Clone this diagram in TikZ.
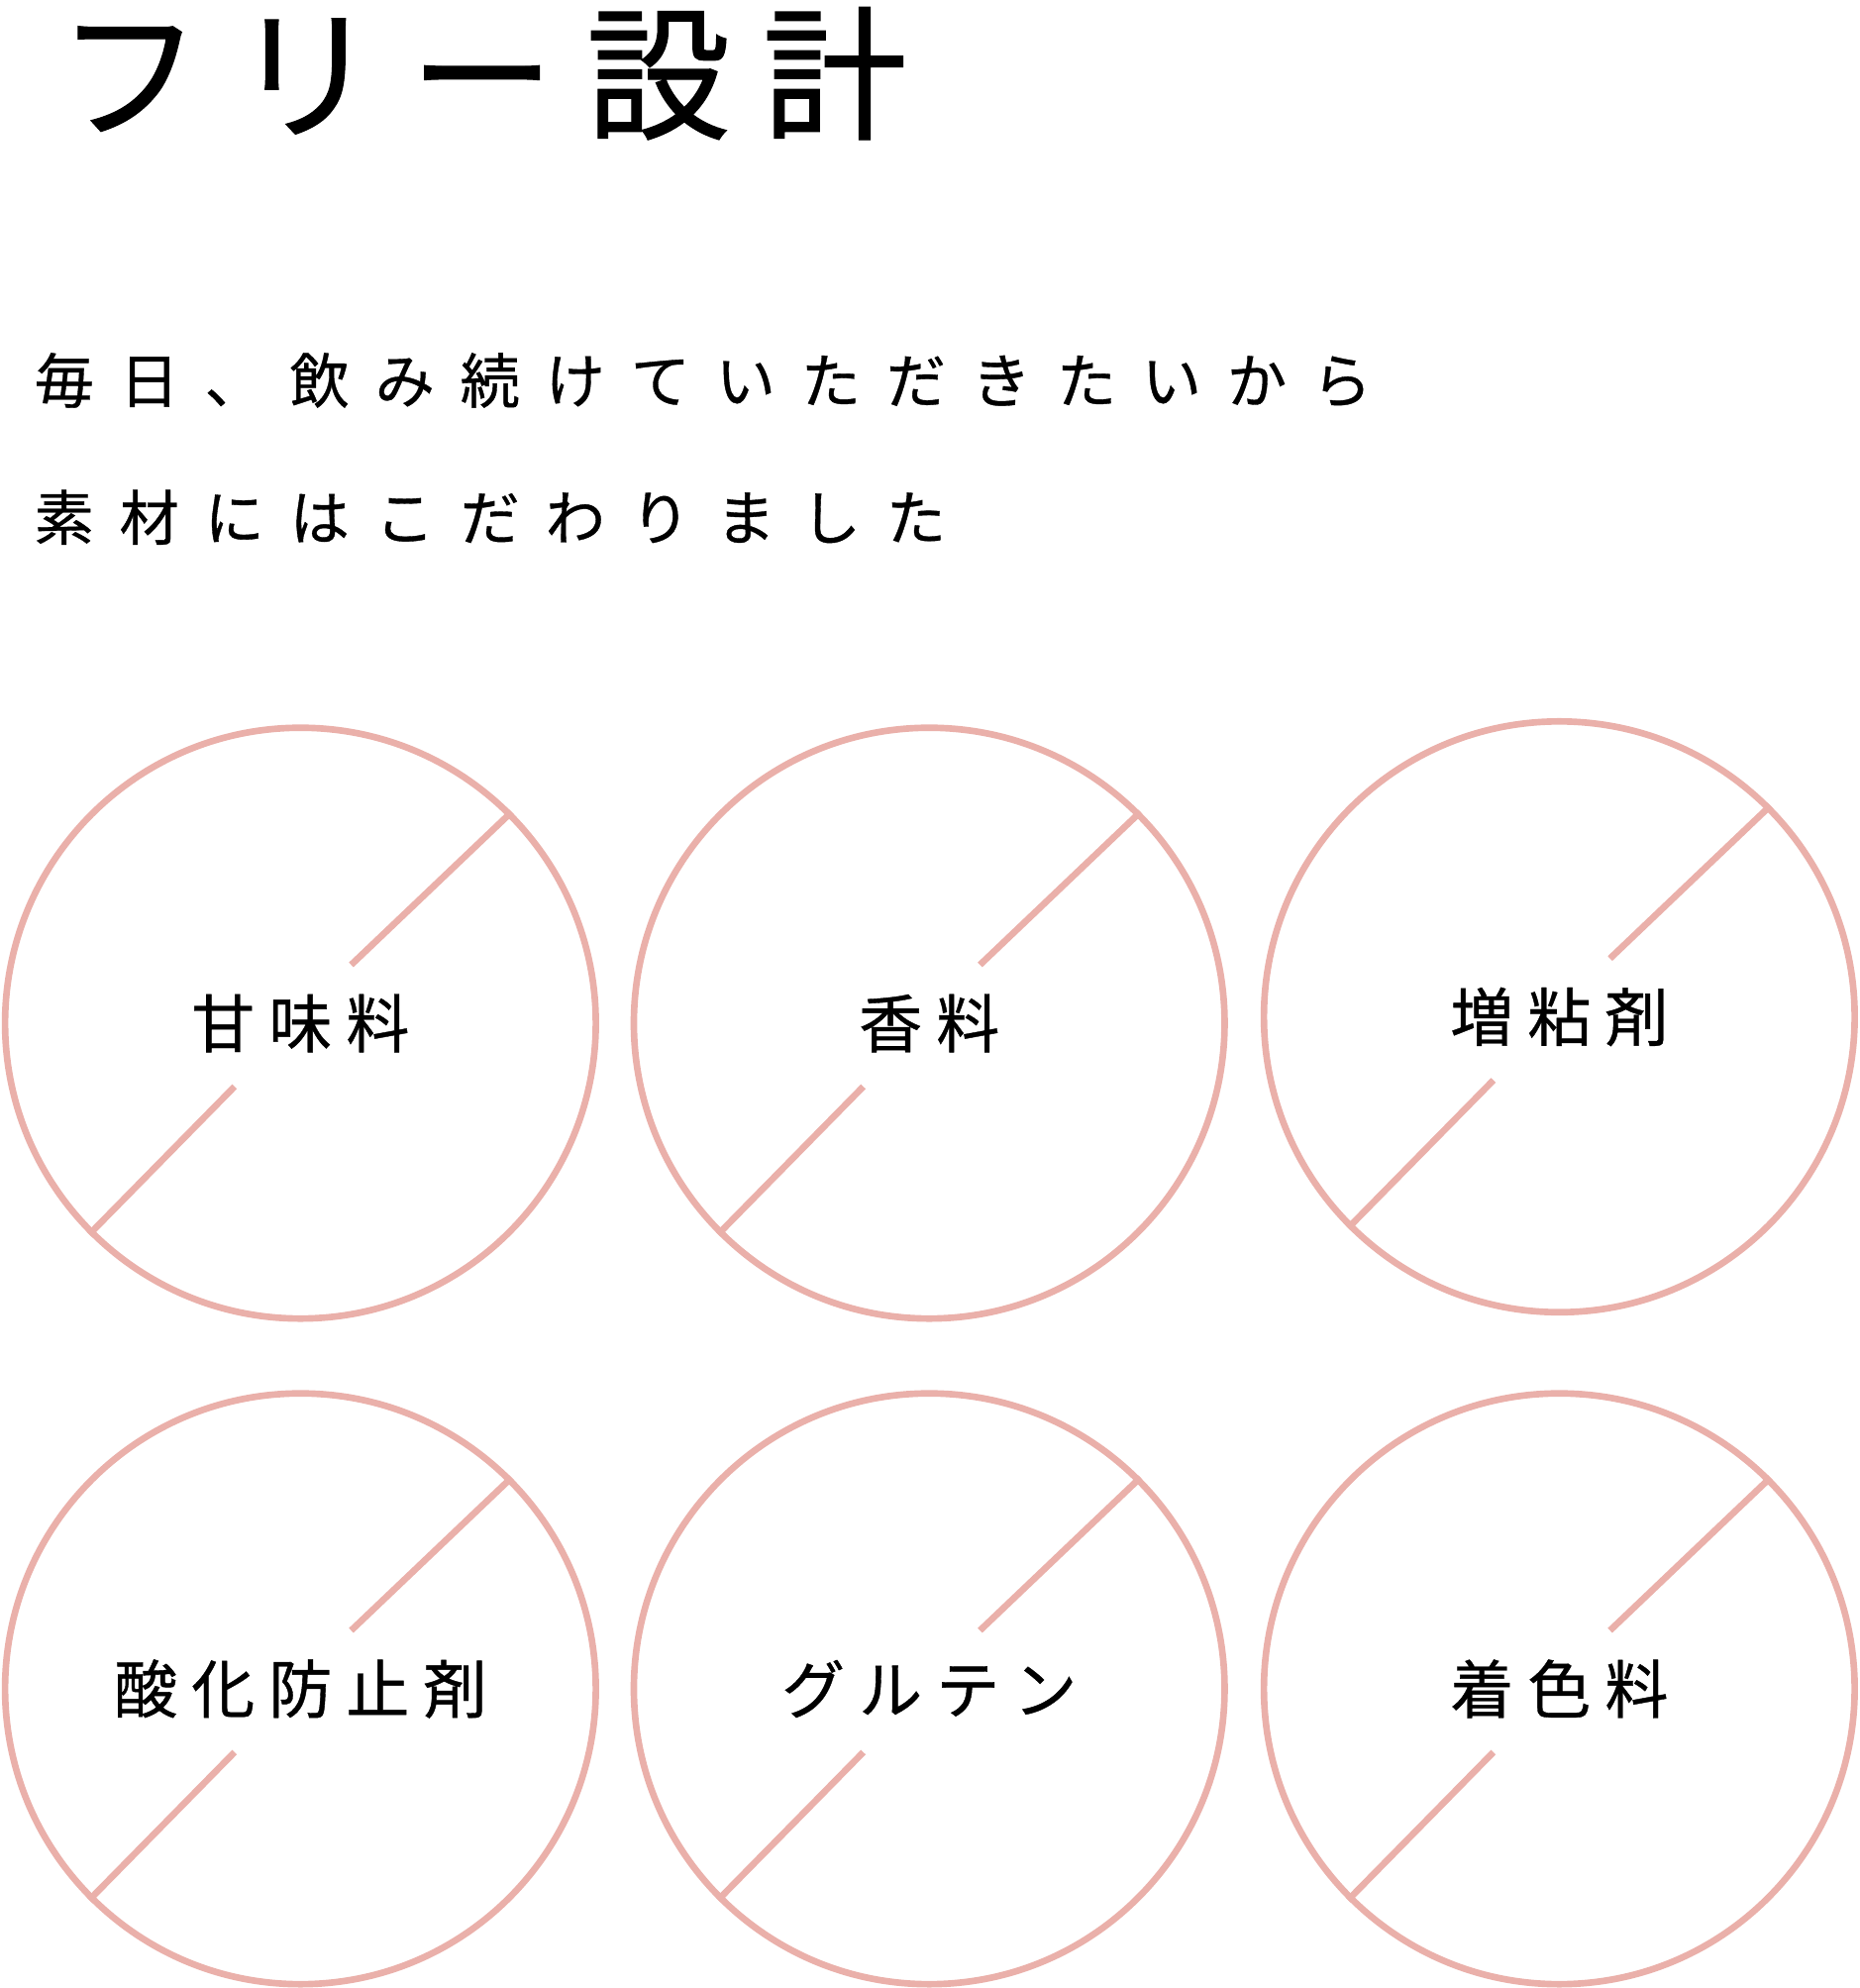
\documentclass[tikz,border=0pt]{standalone}
\usepackage{fontspec}
\setmainfont{Noto Sans CJK JP}
\definecolor{pk}{HTML}{EAB0AA}
\usetikzlibrary{calc}
\tikzset{ring/.style={draw=pk,line width=2.6pt},
 lbl/.style={font=\fontsize{25}{25}\selectfont\addfontfeature{LetterSpace=22,FakeBold=0.6}},
 sub/.style={anchor=west,font=\fontsize{23.5}{24}\selectfont\addfontfeature{LetterSpace=43,FakeBold=0.6}}}
\newcommand{\freeitem}[4]{%
 \node[ring,circle,minimum size=233pt,inner sep=0pt] (#1) at (#2) {};
 \draw[draw=pk,line width=2.6pt] (#1.45) -- ($(#1.center)+(40,-46)$);
 \draw[draw=pk,line width=2.6pt] ($(#1.center)+(-52,50)$) -- (#1.225);
 \node[lbl] (#1t) at ($(#1.center)+(0,#4)$) {#3};}
\begin{document}
\begin{tikzpicture}[x=0.5pt,y=-0.5pt]
\useasboundingbox (0,0) rectangle (1467,1568);
\node[anchor=west,font=\fontsize{57}{57}\selectfont\addfontfeature{LetterSpace=22,FakeBold=0.8}] (title) at (38,58) {フリー設計};
\node[sub] (s1) at (20,300) {毎日、飲み続けていただきたいから};
\node[sub] (s2) at (20,408) {素材にはこだわりました};
\freeitem{c1}{237,807}{甘味料}{0}
\freeitem{c2}{733,807}{香料}{0}
\freeitem{c3}{1230,802}{増粘剤}{0}
\freeitem{c4}{237,1332}{酸化防止剤}{0}
\freeitem{c5}{733,1332}{グルテン}{0}
\freeitem{c6}{1230,1332}{着色料}{0}
\end{tikzpicture}
\end{document}
